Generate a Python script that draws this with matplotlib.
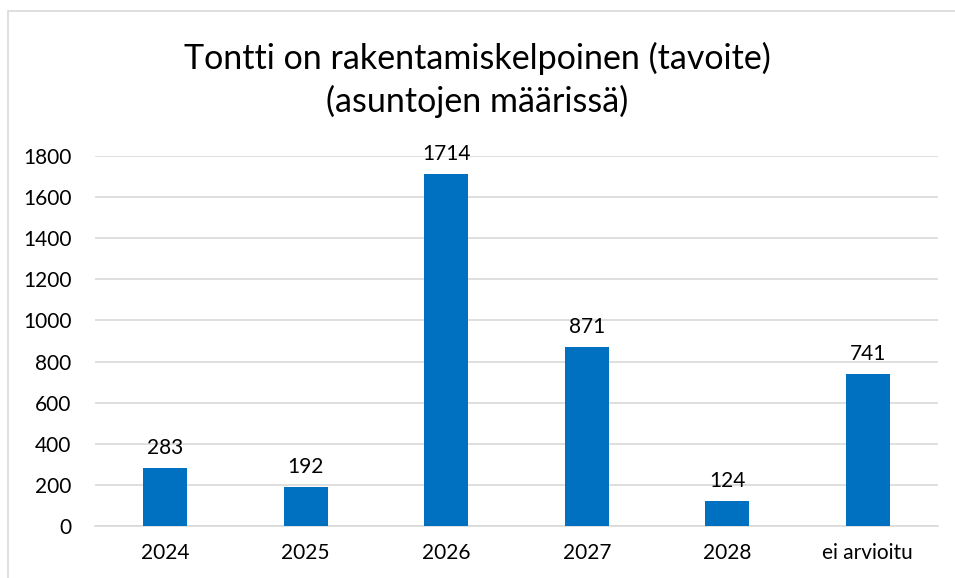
import matplotlib.pyplot as plt
from matplotlib.patches import Rectangle

categories = ['2024', '2025', '2026', '2027', '2028', 'ei arvioitu']
values = [283, 192, 1714, 871, 124, 741]
yticks = [0, 200, 400, 600, 800, 1000, 1200, 1400, 1600, 1800]

plt.rcParams['font.family'] = ['Lato', 'DejaVu Sans']

W, H = 955, 578
fig = plt.figure(figsize=(W / 100, H / 100), dpi=100)
# chart border (Excel style), runs off the right and bottom edge
fig.patches.append(Rectangle((8 / W, -0.05), 1.0, 1 - 11 / H + 0.05,
                             transform=fig.transFigure, fill=False,
                             edgecolor='#d9d9d9', linewidth=1.2))

ax = fig.add_axes([95 / W, 1 - 526 / H, (938 - 95) / W, (526 - 156) / H])
x = range(len(categories))
bars = ax.bar(x, values, width=0.31, color='#0070c0', zorder=3)
for xi, v in zip(x, values):
    ax.annotate(str(v), (xi, v), xytext=(0, 7), textcoords='offset points',
                ha='center', va='bottom', fontsize=15, color='#000000')

ax.set_xlim(-0.5, len(categories) - 0.5)
ax.set_ylim(0, 1800)
ax.set_yticks(yticks)
ax.set_yticklabels([str(t) for t in yticks], fontsize=15)
ax.set_xticks(list(x))
ax.set_xticklabels(categories, fontsize=15)
ax.grid(axis='y', color='#d9d9d9', linewidth=1.2, zorder=0)
ax.tick_params(axis='both', length=0)
ax.tick_params(axis='x', pad=12)
ax.tick_params(axis='y', pad=17)
for s in ['top', 'right', 'left']:
    ax.spines[s].set_visible(False)
ax.spines['bottom'].set_color('#d9d9d9')
ax.spines['bottom'].set_linewidth(1.2)

fig.text(0.5, 1 - 58 / H, 'Tontti on rakentamiskelpoinen (tavoite)',
         ha='center', va='center', fontsize=24.5)
fig.text(0.5, 1 - 101 / H, '(asuntojen määrissä)',
         ha='center', va='center', fontsize=24.5)

fig.savefig('out.png', dpi=100)
